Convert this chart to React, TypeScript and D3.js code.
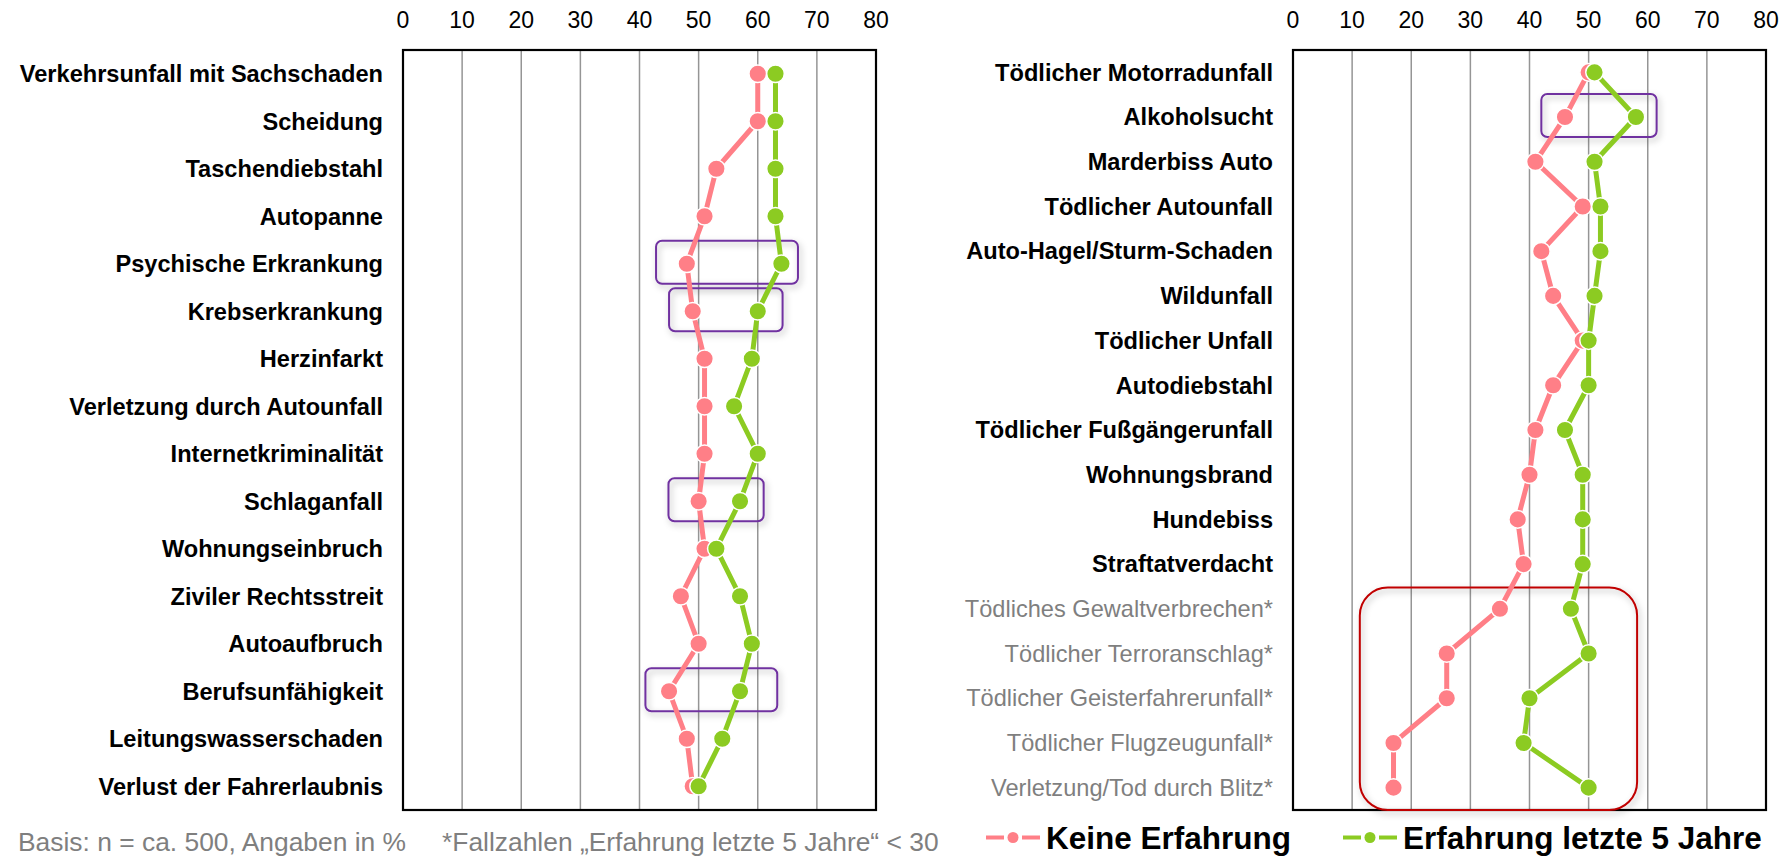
import React from "react";
import * as d3 from "d3";

const ticks = [0, 10, 20, 30, 40, 50, 60, 70, 80];

const leftCategories = [
  "Verkehrsunfall mit Sachschaden",
  "Scheidung",
  "Taschendiebstahl",
  "Autopanne",
  "Psychische Erkrankung",
  "Krebserkrankung",
  "Herzinfarkt",
  "Verletzung durch Autounfall",
  "Internetkriminalität",
  "Schlaganfall",
  "Wohnungseinbruch",
  "Ziviler Rechtsstreit",
  "Autoaufbruch",
  "Berufsunfähigkeit",
  "Leitungswasserschaden",
  "Verlust der Fahrerlaubnis",
];
const leftKeine = [60, 60, 53, 51, 48, 49, 51, 51, 51, 50, 51, 47, 50, 45, 48, 49];
const leftErfahrung = [63, 63, 63, 63, 64, 60, 59, 56, 60, 57, 53, 57, 59, 57, 54, 50];

const rightCategories = [
  "Tödlicher Motorradunfall",
  "Alkoholsucht",
  "Marderbiss Auto",
  "Tödlicher Autounfall",
  "Auto-Hagel/Sturm-Schaden",
  "Wildunfall",
  "Tödlicher Unfall",
  "Autodiebstahl",
  "Tödlicher Fußgängerunfall",
  "Wohnungsbrand",
  "Hundebiss",
  "Straftatverdacht",
  "Tödliches Gewaltverbrechen*",
  "Tödlicher Terroranschlag*",
  "Tödlicher Geisterfahrerunfall*",
  "Tödlicher Flugzeugunfall*",
  "Verletzung/Tod durch Blitz*",
];
const rightKeine = [50, 46, 41, 49, 42, 44, 49, 44, 41, 40, 38, 39, 35, 26, 26, 17, 17];
const rightErfahrung = [51, 58, 51, 52, 52, 51, 50, 50, 46, 49, 49, 49, 47, 50, 40, 39, 50];
const rightStarredFrom = 12;

// highlight annotations (category, x-range in %)
const leftHighlights = [
  { cat: "Psychische Erkrankung", from: 42.8, to: 66.8 },
  { cat: "Krebserkrankung", from: 45.0, to: 64.2 },
  { cat: "Schlaganfall", from: 44.9, to: 61.0 },
  { cat: "Berufsunfähigkeit", from: 41.0, to: 63.3 },
];
const rightHighlights = [{ cat: "Alkoholsucht", from: 42.0, to: 61.5 }];
const rightGroupBox = { fromCat: "Tödliches Gewaltverbrechen*", toCat: "Verletzung/Tod durch Blitz*", from: 11.3, to: 58.2 };

const seriesNames = ["Keine Erfahrung", "Erfahrung letzte 5 Jahre"];
const PINK = "#FF7F87";
const GREEN = "#8CCB22";
const PURPLE = "#7030A0";
const DARKRED = "#C00000";
const FONT = "'Liberation Sans', Arial, Helvetica, sans-serif";

const TOP = 50;
const BOTTOM = 810;

function Panel({ x0, x1, categories, keine, erfahrung, starredFrom, highlights, groupBox }: any) {
  const x = d3.scaleLinear().domain([0, 80]).range([x0, x1]);
  const y = d3.scaleBand<string>().domain(categories).range([TOP, BOTTOM]).padding(0);
  const bw = y.bandwidth();
  const cy = (c: string) => (y(c) as number) + bw / 2;
  const line = d3
    .line<number>()
    .x((d) => x(d))
    .y((_, i) => cy(categories[i]));

  const series = [
    { vals: keine, color: PINK },
    { vals: erfahrung, color: GREEN },
  ];

  return (
    <g>
      {ticks.map((t) => (
        <text key={"t" + t} x={x(t)} y={27.5} textAnchor="middle" fontSize={23} fontFamily={FONT} fill="#000">
          {t}
        </text>
      ))}
      {ticks.slice(1, -1).map((t) => (
        <line key={"g" + t} x1={x(t)} x2={x(t)} y1={TOP} y2={BOTTOM} stroke="#959595" strokeWidth={1.5} />
      ))}
      <rect x={x0} y={TOP} width={x1 - x0} height={BOTTOM - TOP} fill="none" stroke="#000" strokeWidth={2.2} />
      {categories.map((c: string, i: number) => {
        const starred = starredFrom != null && i >= starredFrom;
        return (
          <text
            key={c}
            x={x0 - 20}
            y={cy(c)}
            dy="0.35em"
            textAnchor="end"
            fontSize={23.6}
            fontFamily={FONT}
            fontWeight={starred ? "normal" : "bold"}
            fill={starred ? "#7F7F7F" : "#000"}
          >
            {c}
          </text>
        );
      })}
      {highlights.map((h: any) => (
        <rect
          key={"h" + h.cat}
          x={x(h.from)}
          y={cy(h.cat) - 21.5 - 1.5}
          width={x(h.to) - x(h.from)}
          height={43}
          rx={6}
          fill="none"
          stroke={PURPLE}
          strokeWidth={2}
          filter="url(#shadow)"
        />
      ))}
      {groupBox && (
        <rect
          x={x(groupBox.from)}
          y={(y(groupBox.fromCat) as number) + 1}
          width={x(groupBox.to) - x(groupBox.from)}
          height={(y(groupBox.toCat) as number) + bw - (y(groupBox.fromCat) as number) - 1}
          rx={28}
          fill="none"
          stroke={DARKRED}
          strokeWidth={2}
          filter="url(#shadow)"
        />
      )}
      {series.map((s, si) => (
        <g key={"s" + si}>
          <path d={line(s.vals) as string} fill="none" stroke={s.color} strokeWidth={5} strokeLinejoin="round" />
          {s.vals.map((v: number, i: number) => (
            <circle key={i} cx={x(v)} cy={cy(categories[i])} r={8.8} fill={s.color} stroke="#fff" strokeWidth={1.5} />
          ))}
        </g>
      ))}
    </g>
  );
}

function LegendItem({ x, color, label }: any) {
  const yc = 837.5;
  return (
    <g>
      <line x1={x} x2={x + 18} y1={yc} y2={yc} stroke={color} strokeWidth={4} />
      <line x1={x + 36} x2={x + 54} y1={yc} y2={yc} stroke={color} strokeWidth={4} />
      <circle cx={x + 27} cy={yc} r={5.5} fill={color} />
      <text x={x + 60} y={849} fontSize={31.5} fontWeight="bold" fontFamily={FONT} fill="#000">
        {label}
      </text>
    </g>
  );
}

export default function App() {
  return (
    <svg
      width={1791}
      height={856}
      style={{ position: "absolute", left: 0, top: 0, background: "#fff" }}
      xmlns="http://www.w3.org/2000/svg"
    >
      <defs>
        <filter id="shadow" x="-20%" y="-20%" width="140%" height="150%">
          <feDropShadow dx={2} dy={3} stdDeviation={3} floodColor="#000" floodOpacity={0.3} />
        </filter>
      </defs>
      <rect x={0} y={0} width={1791} height={856} fill="#fff" />
      <Panel
        x0={403}
        x1={876}
        categories={leftCategories}
        keine={leftKeine}
        erfahrung={leftErfahrung}
        starredFrom={null}
        highlights={leftHighlights}
        groupBox={null}
      />
      <Panel
        x0={1293}
        x1={1766}
        categories={rightCategories}
        keine={rightKeine}
        erfahrung={rightErfahrung}
        starredFrom={rightStarredFrom}
        highlights={rightHighlights}
        groupBox={rightGroupBox}
      />
      <text x={18} y={851} fontSize={26.4} fontFamily={FONT} fill="#7F7F7F">
        Basis: n = ca. 500, Angaben in %
      </text>
      <text x={442} y={851} fontSize={26.4} fontFamily={FONT} fill="#7F7F7F">
        *Fallzahlen „Erfahrung letzte 5 Jahre“ &lt; 30
      </text>
      <LegendItem x={986} color={PINK} label={seriesNames[0]} />
      <LegendItem x={1343} color={GREEN} label={seriesNames[1]} />
    </svg>
  );
}
